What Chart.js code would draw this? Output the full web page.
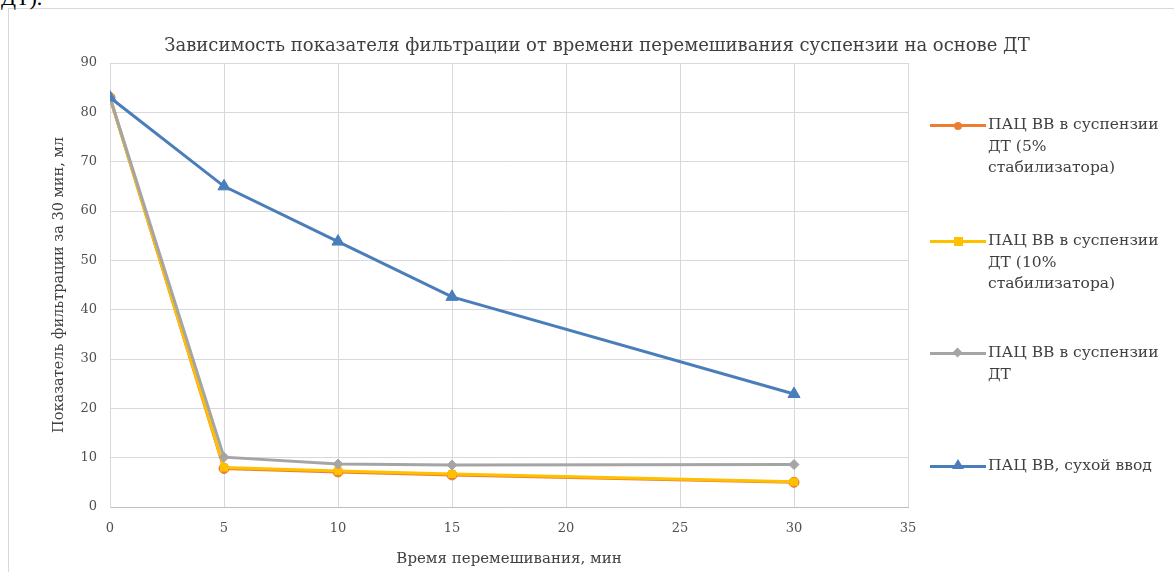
<!DOCTYPE html>
<html>
<head>
<meta charset="utf-8">
<script src="https://cdn.jsdelivr.net/npm/chart.js@4.4.1/dist/chart.umd.min.js"></script>
<style>
  body { margin: 0; background: #fff; font-family: "DejaVu Serif", serif; }
  #wrap { position: relative; width: 1174px; height: 572px; overflow: hidden; }
  #frame { position: absolute; left: 8px; top: 8px; width: 1180px; height: 600px; border: 1px solid #d9d9d9; box-sizing: border-box; }
  #cut { position: absolute; left: 1px; top: -15px; font-size: 22px; color: #000; font-family: "Liberation Serif", serif; }
  #title { position: absolute; top: 34px; left: 0; width: 1194px; text-align: center; font-size: 18px; color: #404040; }
  .item { position: absolute; left: 930px; width: 244px; }
  .sym { position: absolute; left: 0; top: 10px; width: 56px; height: 3px; }
  .mk { position: absolute; left: 24px; }
  .txt { position: absolute; left: 58px; top: 0; font-size: 15.5px; line-height: 21.5px; color: #404040; white-space: nowrap; }
</style>
</head>
<body>
<div id="wrap">
  <div id="frame"></div>
  <div id="cut">ДТ).</div>
  <canvas id="mychart" width="1174" height="572" style="position:absolute;left:0;top:0;"></canvas>
  <div id="title">Зависимость показателя фильтрации от времени перемешивания суспензии на основе ДТ</div>
  <div id="legend"></div>
</div>
<script>
// время перемешивания, мин
let times = [0, 5, 10, 15, 30];

// показатель фильтрации за 30 мин, мл
let pac5 = [83, 7.8, 7.1, 6.5, 5.0];
let pac10 = [83, 8.0, 7.3, 6.7, 5.1];
let pacDT = [83, 10.1, 8.7, 8.5, 8.6];
let pacDry = [83, 65, 53.8, 42.6, 22.9];

let names = [
  ["ПАЦ ВВ в суспензии", "ДТ (5%", "стабилизатора)"],
  ["ПАЦ ВВ в суспензии", "ДТ (10%", "стабилизатора)"],
  ["ПАЦ ВВ в суспензии", "ДТ"],
  ["ПАЦ ВВ, сухой ввод"],
];
let colors = ["#ED7D31", "#FFC000", "#A5A5A5", "#4A7EBB"];
let markers = ["circle", "rect", "rectRot", "triangle"];
let legendTops = [125, 241, 353, 466];

const pts = (arr) => times.map((t, i) => ({ x: t, y: arr[i] }));

let seriesData = [pac5, pac10, pacDT, pacDry];
let datasets = seriesData.map((arr, i) => ({
  label: names[i].join(" "),
  data: pts(arr),
  borderColor: colors[i],
  backgroundColor: colors[i],
  borderWidth: 3,
  pointStyle: markers[i],
  pointRadius: i == 3 ? 7 : 5,
  pointBorderWidth: 1,
  tension: 0,
  order: 3 - i,
}));

// легенда справа (текст переносится, как в Excel)
let legendHtml = "";
names.forEach((lines, i) => {
  let mk = "";
  if (i == 0) mk = `<div class="mk" style="top:-2px;width:8px;height:8px;border-radius:50%;background:${colors[i]}"></div>`;
  if (i == 1) mk = `<div class="mk" style="top:-3px;width:9px;height:9px;background:${colors[i]}"></div>`;
  if (i == 2) mk = `<div class="mk" style="top:-3px;width:7px;height:7px;transform:rotate(45deg);background:${colors[i]}"></div>`;
  if (i == 3) mk = `<div class="mk" style="left:22px;top:-6px;width:0;height:0;border-left:6px solid transparent;border-right:6px solid transparent;border-bottom:10px solid ${colors[i]}"></div>`;
  legendHtml += `<div class="item" style="top:${legendTops[i] - 11}px">
    <div class="sym" style="background:${colors[i]}">${mk}</div>
    <div class="txt">${lines.join("<br>")}</div></div>`;
});
document.querySelector("#legend").innerHTML = legendHtml;

Chart.defaults.font.family = "'DejaVu Serif', serif";
Chart.defaults.color = "#595959";

new Chart(document.getElementById("mychart"), {
  type: "line",
  data: { datasets: datasets },
  options: {
    responsive: false,
    animation: false,
    layout: { padding: { left: 0, right: 266, top: 63, bottom: 0 } },
    plugins: { legend: { display: false }, tooltip: { enabled: false } },
    scales: {
      x: {
        type: "linear",
        min: 0,
        max: 35,
        ticks: { stepSize: 5, padding: 14, font: { size: 13 }, color: "#505050" },
        grid: { color: "#d9d9d9", drawTicks: false },
        border: { color: "#bfbfbf" },
        title: {
          display: true,
          text: "Время перемешивания, мин",
          font: { size: 15 },
          color: "#404040",
          padding: { top: 0, bottom: 4 },
        },
        afterFit: (scale) => { scale.height = 65; },
      },
      y: {
        min: 0,
        max: 90,
        ticks: { stepSize: 10, padding: 13, font: { size: 13 }, color: "#505050" },
        grid: { color: "#d9d9d9", drawTicks: false },
        border: { color: "#d9d9d9" },
        title: {
          display: true,
          text: "Показатель фильтрации за 30 мин, мл",
          font: { size: 14.5 },
          color: "#404040",
          padding: { top: 51, bottom: 0 },
        },
        afterFit: (scale) => { scale.width = 110; },
      },
    },
  },
});
</script>
</body>
</html>
